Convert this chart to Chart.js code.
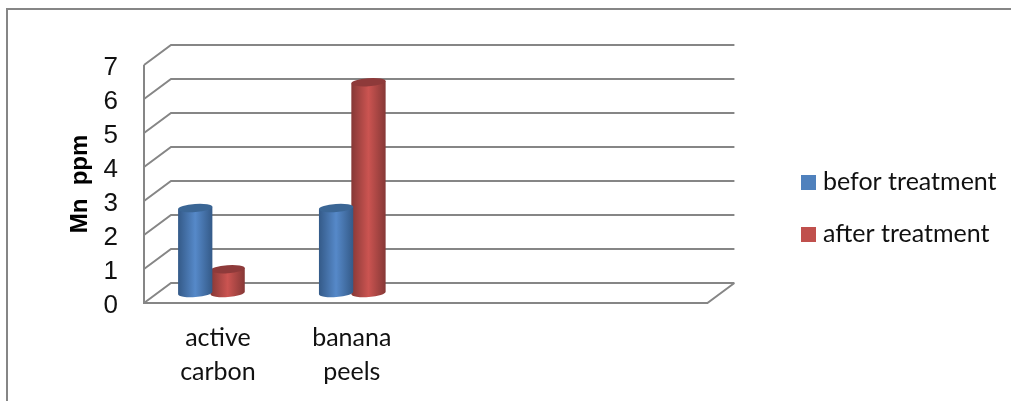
<!DOCTYPE html>
<html>
  <head>
    <meta charset="UTF-8" />
    <title>Mn ppm</title>
    <style>
      html, body { margin: 0; padding: 0; background: #fff; }
      canvas { display: block; }
    </style>
  </head>
  <body>
    <canvas id="chart" width="1011" height="401"></canvas>
    <script src="https://cdn.jsdelivr.net/npm/chart.js"></script>
    <script>
      const categories = [["active", "carbon"], ["banana", "peels"], "", ""];
      const seriesNames = ['befor treatment', 'after treatment'];
      const beforTreatment = [2.5, 2.5, null, null];
      const afterTreatment = [0.7, 6.2, null, null];
      const yTicks = [0, 1, 2, 3, 4, 5, 6, 7];

      const LINE = '#868686';
      const DEPTH_X = 27; // how far the back wall sits from the front plane
      const DEPTH_Y = 20;

      // Horizontal shading of a cylinder
      function cylinderGradient(ctx, left, right, edge, mid) {
        const g = ctx.createLinearGradient(left, 0, right, 0);
        g.addColorStop(0, edge);
        g.addColorStop(0.5, mid);
        g.addColorStop(1, edge);
        return g;
      }

      // Legend swatch as an image, so the gap to the text can be kept tight
      function swatch(color) {
        const c = document.createElement('canvas');
        c.width = 15;
        c.height = 15;
        const x = c.getContext('2d');
        x.fillStyle = color;
        x.fillRect(0, 0, 15, 15);
        return c;
      }

      // Bar controller that paints each bar as a 3D cylinder standing mid floor
      class CylinderController extends Chart.BarController {
        draw() {
          const ctx = this.chart.ctx;
          const ds = this.getDataset();
          const tilt = -4 * Math.PI / 180;
          this.getMeta().data.forEach((bar, i) => {
            if (ds.data[i] === null) return;
            const cx = bar.x - 3;
            const top = bar.y - DEPTH_Y / 2;
            const base = bar.base - DEPTH_Y / 2;
            const rx = bar.width / 2 * 1.03;
            const ry = 4;
            ctx.save();
            ctx.beginPath();
            ctx.ellipse(cx, base, rx, ry, tilt, 0, Math.PI);
            ctx.lineTo(cx - rx * Math.cos(tilt), top - rx * Math.sin(tilt));
            ctx.lineTo(cx + rx * Math.cos(tilt), top + rx * Math.sin(tilt));
            ctx.closePath();
            ctx.fillStyle = cylinderGradient(ctx, cx - rx, cx + rx, ds.edgeColor, ds.midColor);
            ctx.fill();
            ctx.beginPath();
            ctx.ellipse(cx, top, rx, ry, tilt, 0, Math.PI * 2);
            ctx.fillStyle = ds.capColor;
            ctx.fill();
            ctx.restore();
          });
        }
      }
      CylinderController.id = 'cylinder';
      CylinderController.defaults = Chart.BarController.defaults;
      CylinderController.overrides = Chart.BarController.overrides;
      Chart.register(CylinderController);

      // Outer frame, walls and floor of the 3D box
      const box3d = {
        id: 'box3d',
        afterLayout(chart) {
          // legend sits well clear of the plot in the original
          chart.legend.left = 779.5;
          chart.legend.right = 1011;
          chart.legend.top -= 25;
          chart.legend.bottom -= 25;

          // small nudges of the tick labels to sit where the original has them
          const a = chart.chartArea;
          chart.scales.y.getLabelItems(a).forEach((item) => {
            item.options.translation = [item.options.translation[0], item.options.translation[1] + 3];
          });
          const xNudge = [3.5, -3.5, 0, 0];
          chart.scales.x.getLabelItems(a).forEach((item, i) => {
            item.options.translation = [item.options.translation[0] + xNudge[i], item.options.translation[1]];
          });
        },
        beforeDatasetsDraw(chart) {
          const { ctx, chartArea: a, scales } = chart;
          ctx.save();
          ctx.strokeStyle = LINE;
          ctx.lineWidth = 2;

          ctx.beginPath();
          ctx.moveTo(7, 401);
          ctx.lineTo(7, 9);
          ctx.lineTo(1011, 9);
          ctx.stroke();

          ctx.beginPath();
          yTicks.forEach((t) => {
            const y = scales.y.getPixelForValue(t);
            ctx.moveTo(a.left, y);
            ctx.lineTo(a.left + DEPTH_X, y - DEPTH_Y);
            ctx.lineTo(a.right + DEPTH_X, y - DEPTH_Y);
          });
          ctx.moveTo(a.left, a.top);
          ctx.lineTo(a.left, a.bottom);
          ctx.lineTo(a.right, a.bottom);
          ctx.lineTo(a.right + DEPTH_X, a.bottom - DEPTH_Y);
          ctx.stroke();
          ctx.restore();
        },
      };

      new Chart(document.getElementById('chart').getContext('2d'), {
        type: 'cylinder',
        plugins: [box3d],
        data: {
          labels: categories,
          datasets: [
            {
              label: seriesNames[0],
              data: beforTreatment,
              backgroundColor: '#4f81bd',
              edgeColor: '#345a88',
              midColor: '#5689c9',
              capColor: '#3b6695',
            },
            {
              label: seriesNames[1],
              data: afterTreatment,
              backgroundColor: '#c0504d',
              edgeColor: '#863836',
              midColor: '#cb5451',
              capColor: '#8e3a3a',
            },
          ],
        },
        options: {
          responsive: false,
          animation: false,
          categoryPercentage: 0.46,
          barPercentage: 1.03,
          layout: { autoPadding: false, padding: { top: 65, right: 76.5 } },
          plugins: {
            tooltip: { enabled: false },
            legend: {
              position: 'right',
              labels: {
                usePointStyle: true,
                pointStyleWidth: 4,
                boxHeight: 15,
                padding: 27,
                color: '#111',
                font: { family: 'Lato', size: 25 },
                generateLabels: (chart) => chart.data.datasets.map((d, i) => ({
                  text: d.label,
                  fontColor: '#111',
                  datasetIndex: i,
                  pointStyle: swatch(d.backgroundColor),
                })),
              },
            },
          },
          scales: {
            x: {
              afterFit: (s) => { s.height = 98; },
              border: { display: false },
              grid: { display: false, drawTicks: false },
              ticks: {
                autoSkip: false,
                maxRotation: 0,
                padding: 18,
                color: '#111',
                font: { family: 'Lato', size: 25, lineHeight: 1.36 },
              },
            },
            y: {
              min: 0,
              max: 7,
              afterFit: (s) => { s.width = 144; },
              border: { display: false },
              grid: { display: false, drawTicks: false },
              afterBuildTicks: (s) => { s.ticks = yTicks.map((v) => ({ value: v })); },
              title: {
                display: true,
                text: 'Mn  ppm',
                color: '#000',
                padding: { top: 66, bottom: 0 },
                font: { family: 'Liberation Sans', size: 24, weight: 'bold' },
              },
              ticks: {
                autoSkip: false,
                padding: 26,
                color: '#111',
                font: { family: 'Liberation Sans', size: 26 },
              },
            },
          },
        },
      });
    </script>
  </body>
</html>
